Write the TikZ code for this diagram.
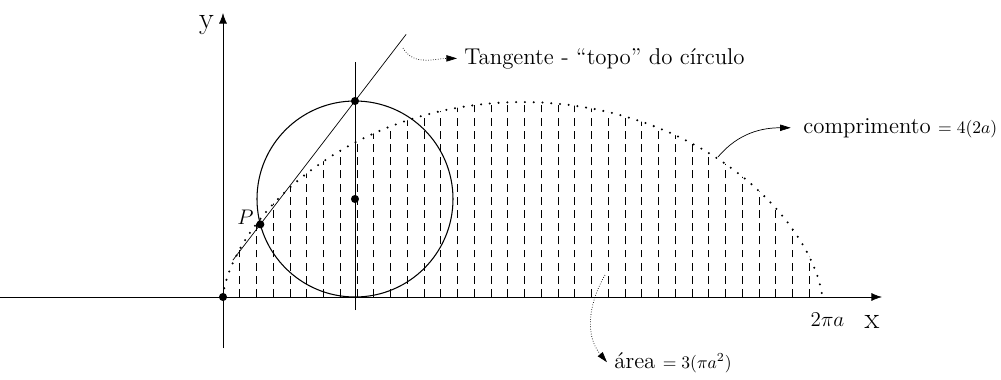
\documentclass[12pt,tikz,border=0pt]{standalone}
\usetikzlibrary{calc,arrows.meta}

\begin{document}
\begin{tikzpicture}[thin,
                    axis/.style={-{Latex[length=6pt,width=4.5pt]}},
                    dot/.style={circle,fill,inner sep=0pt,minimum size=4.6pt},
                    note/.style={thin,-{Triangle[length=6pt,width=3.6pt]}},
                    notetext/.style={anchor=base west,font=\fontsize{13}{16}\selectfont},
                    hatch/.style={line width=0.45pt,dash pattern=on 4.5pt off 3pt},
                    arc dots/.style={line width=1.3pt,line cap=round,
                                     dash pattern=on 0pt off 5pt}]
  \useasboundingbox (-4.46,-1.64) rectangle (15.56,5.94);
  % axes
  \coordinate (xmin) at (-4.46,0);
  \coordinate (xmax) at (13.18,0);
  \coordinate (ymin) at (0,-1.02);
  \coordinate (ymax) at (0,5.68);
  \draw[axis] (xmin) -- (xmax);
  \draw[axis] (ymin) -- (ymax);
  \node[font=\Large] (ylab) at (-0.33,5.44) {y};
  \node[font=\Large] (xlab) at (12.98,-0.5) {x};
  \node (twopia) at (12.09,-0.45) {$2\pi a$};
  % area under the arc
  \begin{scope}
    \clip plot[domain=0:2*pi,samples=90,variable=\t]
      ({1.907*(\t-sin(\t r))},{1.95*(1-cos(\t r))}) -- cycle;
    \foreach \k in {1,...,35}
      \draw[hatch] (0.335*\k,0) -- (0.335*\k,4);
  \end{scope}
  \draw[arc dots] plot[domain=0:2*pi,samples=90,variable=\t]
    ({1.907*(\t-sin(\t r))},{1.95*(1-cos(\t r))});
  % rolling circle
  \coordinate (C) at (2.64,1.96);
  \coordinate (T) at (2.64,3.92);
  \coordinate (P) at ($(C)+(195:1.96)$);
  \coordinate (vlow) at (2.64,-0.26);
  \coordinate (vhigh) at (2.64,4.7);
  \coordinate (tlow) at ($(P)!-0.29!(T)$);
  \coordinate (thigh) at ($(P)!1.54!(T)$);
  \draw[semithick] (C) circle[radius=1.96];
  \draw (vlow) -- (vhigh);
  \draw (tlow) -- (thigh);
  \node[dot] (top) at (T) {};
  \node[dot] (centre) at (C) {};
  \node[dot] (pt) at (P) {};
  \node[dot] (origin) at (0,0) {};
  \node (plab) at (0.45,1.6) {$P$};
  % notes
  \node[notetext] (tang) at (4.68,4.66) {Tangente - ``topo'' do círculo};
  \node[notetext] (compr) at (11.46,3.28)
    {comprimento {\fontsize{10}{12}\selectfont$=4(2a)$}};
  \node[notetext] (area) at (7.68,-1.42)
    {área {\fontsize{10}{12}\selectfont$=3(\pi a^2)$}};
  \coordinate (tfrom) at (3.6,4.98);
  \coordinate (cfrom) at (9.9,2.8);
  \coordinate (afrom) at (7.64,0.44);
  \draw[note,densely dotted] (tfrom) to[out=-60,in=180] (tang.west);
  \draw[note,shorten >=3pt] (cfrom) to[out=50,in=180] (compr.west);
  \draw[note,densely dotted] (afrom) to[out=240,in=130] (area.west);
\end{tikzpicture}
\end{document}
